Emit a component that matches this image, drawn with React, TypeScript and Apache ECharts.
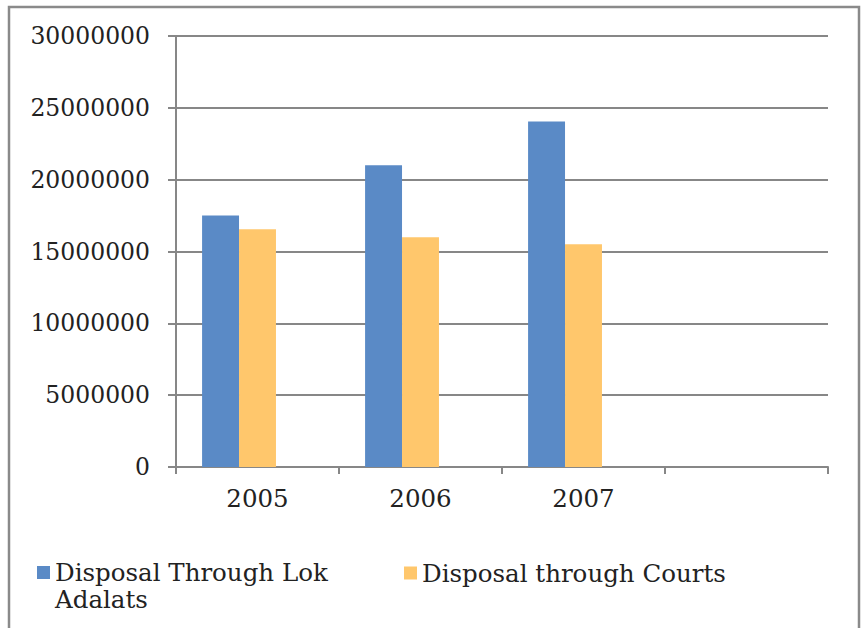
import React, { useEffect, useRef } from "react";
import * as echarts from "echarts";

const years = ["2005", "2006", "2007", ""];
const lokAdalats = [17500000, 21000000, 24050000, null];
const courts = [16550000, 16000000, 15500000, null];
const emptySeries: (number | null)[] = [null, null, null, null];
const yTicks = { min: 0, max: 30000000, interval: 5000000 };

const FONT = "DejaVu Serif";
const GRAY = "#878787";

export default function App() {
  const ref = useRef<HTMLDivElement>(null);
  useEffect(() => {
    if (!ref.current) return;
    const chart = echarts.init(ref.current, null, { renderer: "svg" });
    chart.setOption({
      animation: false,
      backgroundColor: "#ffffff",
      graphic: [
        {
          type: "rect",
          shape: { x: 9, y: 7, width: 850, height: 640 },
          style: { fill: "none", stroke: "#8a8a8a", lineWidth: 2.5 },
          silent: true,
        },
      ],
      grid: { left: 176, right: 35, top: 36, bottom: 161, containLabel: false },
      xAxis: {
        type: "category",
        data: years,
        axisLine: { lineStyle: { color: GRAY, width: 2 } },
        axisTick: { show: true, alignWithLabel: false, length: 7, lineStyle: { color: GRAY, width: 2 } },
        axisLabel: { margin: 19, color: "#222", fontFamily: FONT, fontSize: 24.5 },
      },
      yAxis: {
        type: "value",
        min: yTicks.min,
        max: yTicks.max,
        interval: yTicks.interval,
        axisLine: { show: true, lineStyle: { color: GRAY, width: 2 } },
        axisTick: { show: true, length: 8, lineStyle: { color: GRAY, width: 2 } },
        splitLine: { show: true, lineStyle: { color: GRAY, width: 2 } },
        axisLabel: {
          margin: 26,
          color: "#222",
          fontFamily: FONT,
          fontSize: 23.5,
          formatter: (v: number) => String(v),
        },
      },
      legend: [
        {
          data: ["Disposal Through Lok Adalats"],
          left: 37,
          top: 532,
          padding: 0,
          itemWidth: 13,
          itemHeight: 13,
          icon: "rect",
          formatter: () => "\nDisposal Through Lok\nAdalats",
          textStyle: {
            fontFamily: FONT,
            fontSize: 24.5,
            color: "#222",
            lineHeight: 27,
          },
        },
        {
          data: ["Disposal through Courts"],
          left: 404,
          top: 559.5,
          padding: 0,
          itemWidth: 13,
          itemHeight: 13,
          icon: "rect",
          textStyle: { fontFamily: FONT, fontSize: 24.5, color: "#222", lineHeight: 27 },
        },
      ],
      series: [
        {
          name: "Disposal Through Lok Adalats",
          type: "bar",
          data: lokAdalats,
          barGap: "0%",
          barCategoryGap: "32%",
          itemStyle: { color: "#5A8AC6" },
        },
        {
          name: "Disposal through Courts",
          type: "bar",
          data: courts,
          barGap: "0%",
          barCategoryGap: "32%",
          itemStyle: { color: "#FFC76C" },
        },
        {
          name: "Series 3",
          type: "bar",
          data: emptySeries,
          barGap: "0%",
          barCategoryGap: "32%",
          itemStyle: { color: "#9BBB59" },
        },
      ],
    });
    return () => chart.dispose();
  }, []);
  return (
    <div
      ref={ref}
      style={{ position: "absolute", left: 0, top: 0, width: 863, height: 628 }}
    />
  );
}
